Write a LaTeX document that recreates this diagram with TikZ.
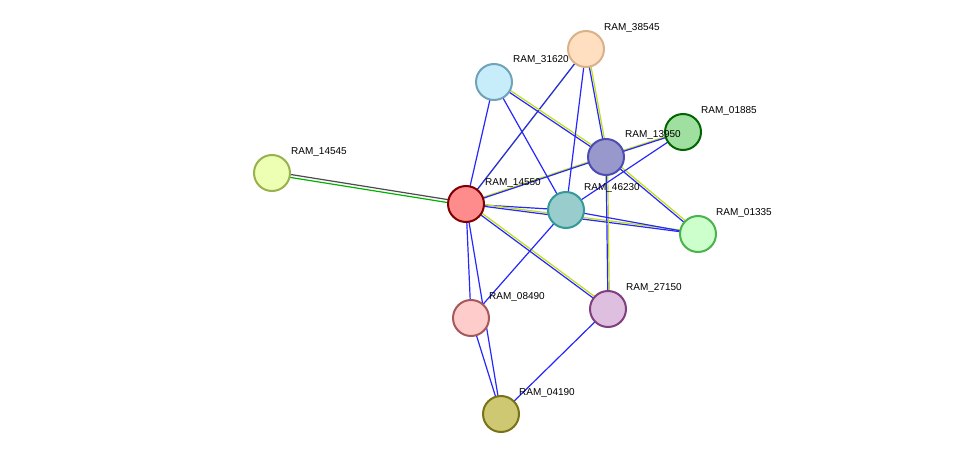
\documentclass[tikz,border=0pt]{standalone}
\usepackage{fontspec}
\setmainfont{Liberation Sans}
\usetikzlibrary{positioning}
\tikzset{prot/.style={circle, minimum size=36pt, inner sep=0pt, line width=2pt},
  lbl/.style={font=\fontsize{10}{12}\selectfont, inner sep=1pt, anchor=south west},
  ev/.style={blue!85!white, line width=1.2pt},
  tm/.style={yellow!75!green, line width=1.2pt}}
\newcommand{\pair}[2]{\draw[tm, transform canvas={shift={(1.5pt,1.5pt)}}] (#1) -- (#2); \draw[ev] (#1) -- (#2);}

\begin{document}
\begin{tikzpicture}[x=1pt, y=-1pt]
        \useasboundingbox (0,0) rectangle (975,460);
        % anchors of the proteins
        \coordinate (p38545) at (586,49);
        \coordinate (p31620) at (494,82);
        \coordinate (p01885) at (683,132);
        \coordinate (p13950) at (606,157);
        \coordinate (p14545) at (272,173);
        \coordinate (p14550) at (466,204);
        \coordinate (p46230) at (566,210);
        \coordinate (p01335) at (698,234);
        \coordinate (p27150) at (608,309);
        \coordinate (p08490) at (471,318);
        \coordinate (p04190) at (501,414);

        % edges
        \draw[green!70!black, line width=1.2pt, transform canvas={shift={(0,-1.5pt)}}] (p14545) -- (p14550);
        \draw[black!70, line width=1.2pt, transform canvas={shift={(0,1.5pt)}}] (p14545) -- (p14550);
        \pair{p14550}{p38545}
        \draw[ev] (p14550) -- (p31620);
        \pair{p14550}{p13950}
        \draw[ev] (p14550) -- (p46230);
        \pair{p14550}{p01335}
        \pair{p14550}{p27150}
        \draw[ev] (p14550) -- (p08490);
        \draw[ev] (p14550) -- (p04190);
        \draw[ev] (p31620) -- (p46230);
        \pair{p31620}{p13950}
        \draw[ev] (p38545) -- (p46230);
        \pair{p38545}{p13950}
        \pair{p13950}{p01885}
        \pair{p13950}{p01335}
        \pair{p13950}{p27150}
        \draw[ev] (p46230) -- (p01335);
        \draw[ev] (p46230) -- (p01885);
        \draw[ev] (p46230) -- (p08490);
        \draw[ev] (p27150) -- (p04190);
        \draw[ev] (p08490) -- (p04190);

        % proteins
        \node[prot, fill=orange!25, draw=brown!60] at (p38545) (n38545) {};
        \node[prot, fill=cyan!22, draw=cyan!40!gray] at (p31620) (n31620) {};
        \node[prot, fill=green!50!gray!50, draw=green!40!black] at (p01885) (n01885) {};
        \node[prot, fill=blue!35!gray!60, draw=blue!40!gray] at (p13950) (n13950) {};
        \node[prot, fill=lime!30, draw=lime!40!gray] at (p14545) (n14545) {};
        \node[prot, fill=red!45, draw=red!50!black] at (p14550) (n14550) {};
        \node[prot, fill=teal!40, draw=teal!80] at (p46230) (n46230) {};
        \node[prot, fill=green!20, draw=green!40!gray] at (p01335) (n01335) {};
        \node[prot, fill=violet!25, draw=violet!50!gray] at (p27150) (n27150) {};
        \node[prot, fill=red!20, draw=red!30!gray] at (p08490) (n08490) {};
        \node[prot, fill=olive!45, draw=olive!80!black] at (p04190) (n04190) {};

        % labels
        \node[lbl] at (603,34) (l38545) {RAM\_38545};
        \node[lbl] at (512,66) (l31620) {RAM\_31620};
        \node[lbl] at (700,117) (l01885) {RAM\_01885};
        \node[lbl] at (624,141) (l13950) {RAM\_13950};
        \node[lbl] at (290,158) (l14545) {RAM\_14545};
        \node[lbl] at (484,189) (l14550) {RAM\_14550};
        \node[lbl] at (583,194) (l46230) {RAM\_46230};
        \node[lbl] at (715,219) (l01335) {RAM\_01335};
        \node[lbl] at (625,294) (l27150) {RAM\_27150};
        \node[lbl] at (488,303) (l08490) {RAM\_08490};
        \node[lbl] at (518,399) (l04190) {RAM\_04190};
\end{tikzpicture}
\end{document}
